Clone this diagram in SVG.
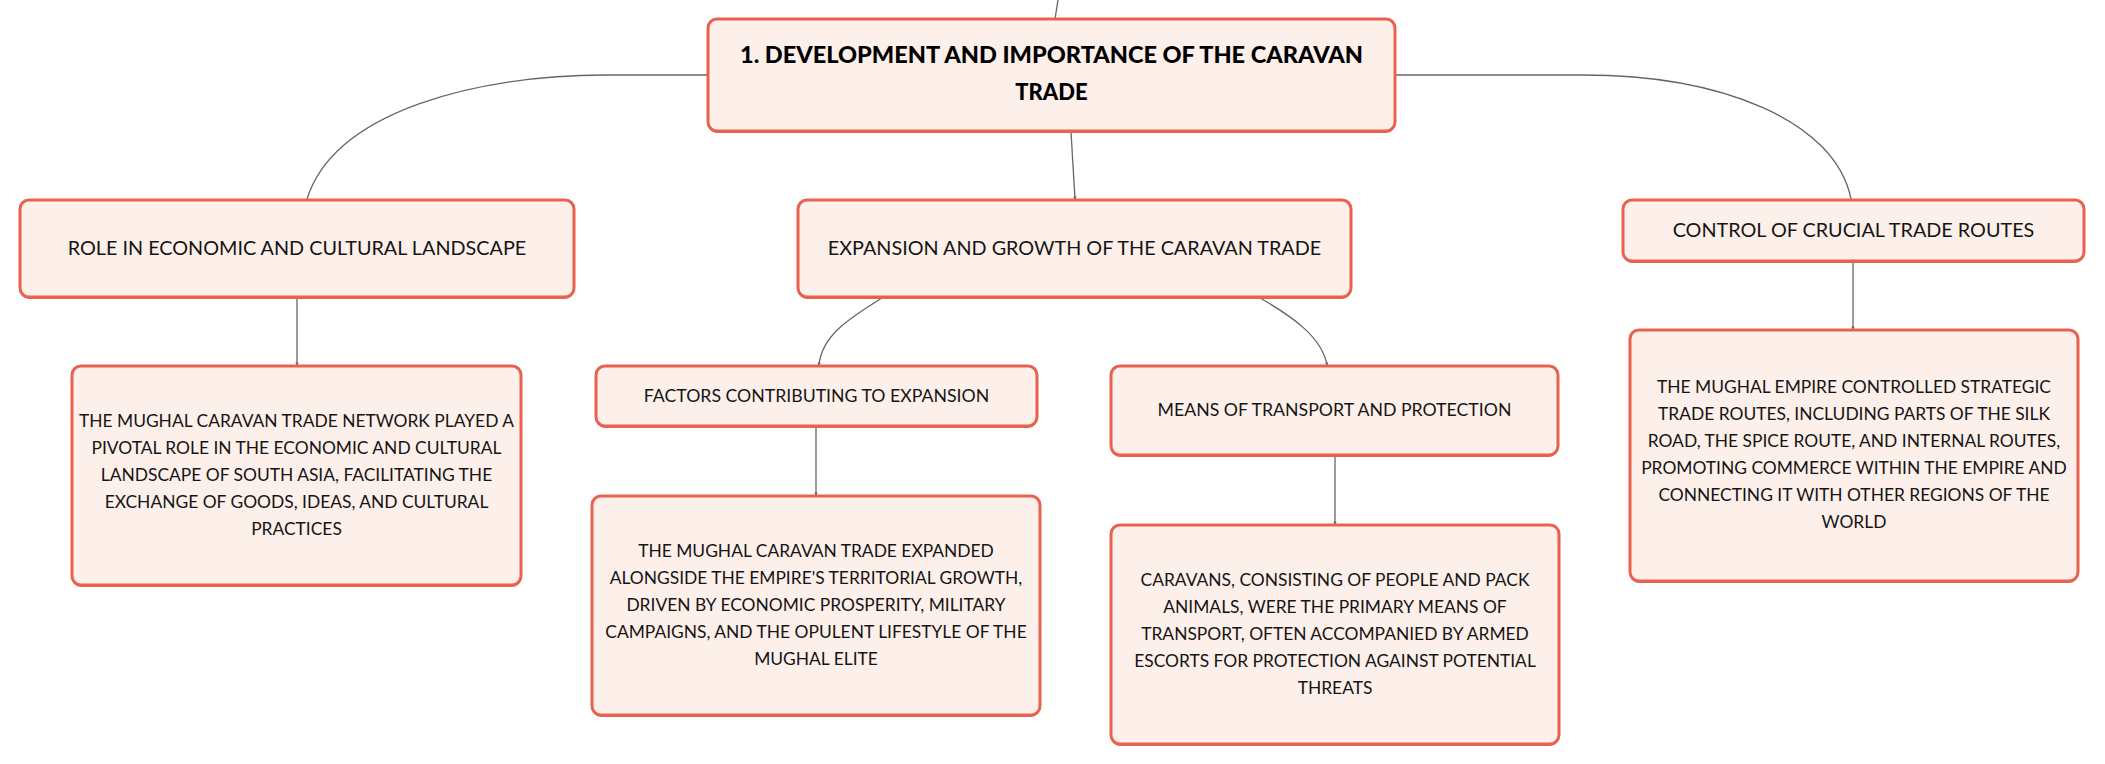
<svg xmlns="http://www.w3.org/2000/svg" width="2105" height="764" viewBox="0 0 2105 764">
<defs>
<marker id="arr" viewBox="0 0 6 6" refX="4" refY="3" markerWidth="3" markerHeight="3" orient="auto"><path d="M0,0.5 L6,3 L0,5.5 z" fill="#666"/></marker>
<style>
.box{fill:#fdefea;stroke:#e8624e;stroke-width:3}
.sh{fill:#d66a5e}
.c{fill:none;stroke:#666;stroke-width:1.3}
.t{font-family:Lato,"Noto Sans","Liberation Sans",sans-serif;font-size:17.4px;fill:#151515;text-anchor:middle}
.s{font-family:Lato,"Noto Sans","Liberation Sans",sans-serif;font-size:17.7px;fill:#151515;text-anchor:middle}
.h{font-family:Lato,"Noto Sans","Liberation Sans",sans-serif;font-size:19.8px;fill:#151515;text-anchor:middle}
.b{font-family:Lato,"Noto Sans","Liberation Sans",sans-serif;font-size:22px;font-weight:900;fill:#000;text-anchor:middle}
</style>
</defs>
<rect width="2105" height="764" fill="#fff"/>
<g id="connectors">
<path class="c" d="M1058,0 L1055,19"/>
<path class="c" d="M708,75 H605 C480,75 335,110 307,199"/>
<path class="c" d="M1395,75 H1583 C1720,75 1835,120 1851,199"/>
<path class="c" d="M1071,132 L1075,199" marker-end="url(#arr)"/>
<path class="c" d="M297,297 L297,365" marker-end="url(#arr)"/>
<path class="c" d="M882,298 C850,318 822,335 819,365" marker-end="url(#arr)"/>
<path class="c" d="M1260,298 C1295,318 1322,338 1327,365" marker-end="url(#arr)"/>
<path class="c" d="M816,427 L816,495" marker-end="url(#arr)"/>
<path class="c" d="M1335,455 L1335,524" marker-end="url(#arr)"/>
<path class="c" d="M1853,261 L1853,329" marker-end="url(#arr)"/>
</g>
<g id="main">
<rect class="sh" x="708" y="21" width="687" height="112" rx="9"/>
<rect class="box" x="708" y="19" width="687" height="112" rx="9"/>
<text class="b" x="1051.5" y="63" textLength="623" lengthAdjust="spacingAndGlyphs">1. DEVELOPMENT AND IMPORTANCE OF THE CARAVAN</text>
<text class="b" x="1051.5" y="100">TRADE</text>
</g>
<g id="role">
<rect class="sh" x="20" y="202" width="554" height="97" rx="9"/>
<rect class="box" x="20" y="200" width="554" height="97" rx="9"/>
<text class="h" x="297" y="255">ROLE IN ECONOMIC AND CULTURAL LANDSCAPE</text>
</g>
<g id="role-detail">
<rect class="sh" x="72" y="368" width="449" height="219" rx="9"/>
<rect class="box" x="72" y="366" width="449" height="219" rx="9"/>
<text class="t" x="296.5" y="427">THE MUGHAL CARAVAN TRADE NETWORK PLAYED A</text>
<text class="t" x="296.5" y="454">PIVOTAL ROLE IN THE ECONOMIC AND CULTURAL</text>
<text class="t" x="296.5" y="481">LANDSCAPE OF SOUTH ASIA, FACILITATING THE</text>
<text class="t" x="296.5" y="508">EXCHANGE OF GOODS, IDEAS, AND CULTURAL</text>
<text class="t" x="296.5" y="535">PRACTICES</text>
</g>
<g id="expansion">
<rect class="sh" x="798" y="202" width="553" height="97" rx="9"/>
<rect class="box" x="798" y="200" width="553" height="97" rx="9"/>
<text class="h" x="1074.5" y="255">EXPANSION AND GROWTH OF THE CARAVAN TRADE</text>
</g>
<g id="factors">
<rect class="sh" x="596" y="368" width="441" height="60" rx="9"/>
<rect class="box" x="596" y="366" width="441" height="60" rx="9"/>
<text class="s" x="816.5" y="402">FACTORS CONTRIBUTING TO EXPANSION</text>
</g>
<g id="factors-detail">
<rect class="sh" x="592" y="498" width="448" height="219" rx="9"/>
<rect class="box" x="592" y="496" width="448" height="219" rx="9"/>
<text class="t" x="816" y="557">THE MUGHAL CARAVAN TRADE EXPANDED</text>
<text class="t" x="816" y="584">ALONGSIDE THE EMPIRE'S TERRITORIAL GROWTH,</text>
<text class="t" x="816" y="611">DRIVEN BY ECONOMIC PROSPERITY, MILITARY</text>
<text class="t" x="816" y="638">CAMPAIGNS, AND THE OPULENT LIFESTYLE OF THE</text>
<text class="t" x="816" y="665">MUGHAL ELITE</text>
</g>
<g id="means">
<rect class="sh" x="1111" y="368" width="447" height="89" rx="9"/>
<rect class="box" x="1111" y="366" width="447" height="89" rx="9"/>
<text class="s" x="1334.5" y="416">MEANS OF TRANSPORT AND PROTECTION</text>
</g>
<g id="means-detail">
<rect class="sh" x="1111" y="527" width="448" height="219" rx="9"/>
<rect class="box" x="1111" y="525" width="448" height="219" rx="9"/>
<text class="t" x="1335" y="586">CARAVANS, CONSISTING OF PEOPLE AND PACK</text>
<text class="t" x="1335" y="613">ANIMALS, WERE THE PRIMARY MEANS OF</text>
<text class="t" x="1335" y="640">TRANSPORT, OFTEN ACCOMPANIED BY ARMED</text>
<text class="t" x="1335" y="667">ESCORTS FOR PROTECTION AGAINST POTENTIAL</text>
<text class="t" x="1335" y="694">THREATS</text>
</g>
<g id="control">
<rect class="sh" x="1623" y="202" width="461" height="61" rx="9"/>
<rect class="box" x="1623" y="200" width="461" height="61" rx="9"/>
<text class="h" x="1853.5" y="237">CONTROL OF CRUCIAL TRADE ROUTES</text>
</g>
<g id="control-detail">
<rect class="sh" x="1630" y="332" width="448" height="251" rx="9"/>
<rect class="box" x="1630" y="330" width="448" height="251" rx="9"/>
<text class="t" x="1854" y="393">THE MUGHAL EMPIRE CONTROLLED STRATEGIC</text>
<text class="t" x="1854" y="420">TRADE ROUTES, INCLUDING PARTS OF THE SILK</text>
<text class="t" x="1854" y="447">ROAD, THE SPICE ROUTE, AND INTERNAL ROUTES,</text>
<text class="t" x="1854" y="474">PROMOTING COMMERCE WITHIN THE EMPIRE AND</text>
<text class="t" x="1854" y="501">CONNECTING IT WITH OTHER REGIONS OF THE</text>
<text class="t" x="1854" y="528">WORLD</text>
</g>
</svg>
